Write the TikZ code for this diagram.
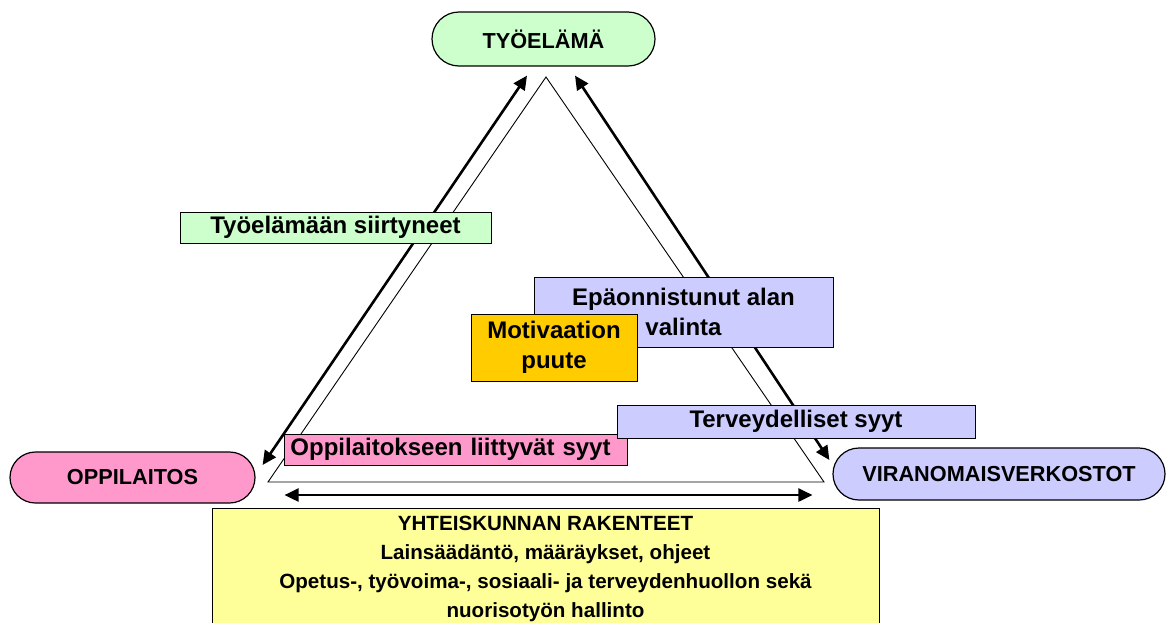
\documentclass[tikz,border=0pt]{standalone}
\usepackage{fontspec}
\setmainfont{Liberation Sans}
\usetikzlibrary{
calc,
positioning,
shapes.misc,
arrows.meta,
}
\definecolor{tyogreen}{HTML}{CCFFCC}
\definecolor{oppipink}{HTML}{FF99CC}
\definecolor{viralilac}{HTML}{CCCCFF}
\definecolor{motiorange}{HTML}{FFCC00}
\definecolor{yhtyellow}{HTML}{FFFF99}
\tikzset{
every node/.style={align=center, font=\bfseries},
terminal/.style={rounded rectangle, draw, line width=1.2pt, inner sep=0pt, font=\bfseries\fontsize{21.7}{26}\selectfont},
reason/.style={rectangle, draw, line width=0.9pt, inner sep=0pt, font=\bfseries\fontsize{24}{30}\selectfont},
flow/.style={line width=2.6pt, {Triangle[length=14pt,width=13pt]}-{Triangle[length=14pt,width=13pt]}},
}

\begin{document}
\begin{tikzpicture}[x=1pt, y=-1pt]
    \clip (0,0) rectangle (1170,622);
    \fill [white] (0,0) rectangle (1170,622);

    \node [terminal, fill=tyogreen, minimum width=223pt, minimum height=54pt] (tyo) at (543.5,39) {TYÖELÄMÄ};
    \node [terminal, fill=oppipink, minimum width=245pt, minimum height=51pt] (opp) at (132.5,477.5) {OPPILAITOS};
    \node [terminal, fill=viralilac, minimum width=332pt, minimum height=52pt] (vir) at (999,474) {VIRANOMAISVERKOSTOT};

    % triangle
    \coordinate (apex) at (546,77);
    \coordinate (baseL) at (268,482);
    \coordinate (baseR) at (824,482);
    \draw [line width=0.9pt] (apex) -- (baseL) -- (baseR) -- cycle;

    \draw [flow] ($(tyo.south)+(-16.5,9)$) -- ($(opp.east)+(7,-12.5)$);
    \draw [flow] ($(tyo.south)+(31.5,9)$) -- ($(vir.west)+(-3,-14)$);

    \node [reason, fill=yhtyellow, anchor=north, minimum width=667pt, inner ysep=7.5pt,
        font=\bfseries\fontsize{20.6}{29}\selectfont] (yht) at (545.5,508)
        {YHTEISKUNNAN RAKENTEET\\Lainsäädäntö, määräykset, ohjeet\\Opetus-, työvoima-, sosiaali- ja terveydenhuollon sekä\\nuorisotyön hallinto};
    \draw [flow] ($(yht.north west)+(73,-13)$) -- ($(yht.north east)+(-67,-13)$);

    \node [reason, fill=tyogreen, minimum width=311pt, minimum height=31pt] (siirt) at (335.5,227.5) {Työelämään siirtyneet};
    \node [reason, fill=viralilac, minimum width=299pt, minimum height=70pt] (epa) at (683.5,312) {Epäonnistunut alan\\valinta};
    \node [reason, fill=motiorange, minimum width=166pt, minimum height=67pt] (moti) at (554,347.5) {Motivaation\\puute};
    \node [reason, fill=oppipink, anchor=west, text width=331pt, align=left, inner xsep=6pt, minimum height=31pt] (oppsyy) at (284,449.5) {Oppilaitokseen liittyvät syyt};
    \node [reason, fill=viralilac, minimum width=358pt, minimum height=33pt] (terv) at (796,421.5) {Terveydelliset syyt};
\end{tikzpicture}
\end{document}
